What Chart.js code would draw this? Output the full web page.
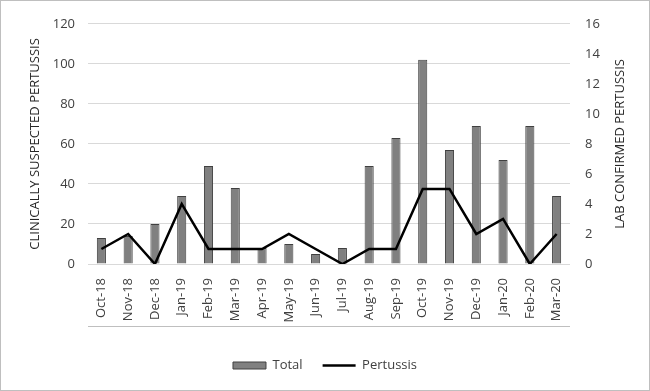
<!DOCTYPE html>
<html>
<head>
<meta charset="utf-8">
<script src="https://cdn.jsdelivr.net/npm/chart.js@4/dist/chart.umd.min.js"></script>
<style>
    html, body { margin: 0; padding: 0; background: #fff; }
    #wrap { width: 648px; height: 389px; border: 1px solid #bfbfbf; position: relative; }
</style>
</head>
<body>
<div id="wrap"><canvas id="chart"></canvas></div>
<script>
// ---------- DATA ----------
const months = ["Oct-18", "Nov-18", "Dec-18", "Jan-19", "Feb-19", "Mar-19", "Apr-19", "May-19", "Jun-19",
    "Jul-19", "Aug-19", "Sep-19", "Oct-19", "Nov-19", "Dec-19", "Jan-20", "Feb-20", "Mar-20"];
const totalCases = [13, 14, 20, 34, 49, 38, 8, 10, 5, 8, 49, 63, 102, 57, 69, 52, 69, 34];
const pertussisCases = [1, 2, 0, 4, 1, 1, 1, 2, 1, 0, 1, 1, 5, 5, 2, 3, 0, 2];
const leftTicks = [0, 20, 40, 60, 80, 100, 120];
const rightTicks = [0, 2, 4, 6, 8, 10, 12, 14, 16];
const leftTitle = "CLINICALLY SUSPECTED PERTUSSIS";
const rightTitle = "LAB CONFIRMED PERTUSSIS";

const font = "'Open Sans', sans-serif";
const tickColor = "#404040";

// axis titles (both read bottom-to-top) and the line under the category labels
const extras = {
    id: "extras",
    afterDraw(chart) {
        const ctx = chart.ctx;
        const area = chart.chartArea;
        const midY = (area.top + area.bottom) / 2;
        ctx.save();
        ctx.fillStyle = "#bfbfbf";
        ctx.fillRect(area.left, Math.round(area.bottom + 62), area.right - area.left, 1);

        ctx.fillStyle = "#262626";
        ctx.font = "13px " + font;
        ctx.textAlign = "center";
        ctx.textBaseline = "middle";
        [[34, leftTitle], [619, rightTitle]].forEach(([tx, text]) => {
            ctx.save();
            ctx.translate(tx, midY);
            ctx.rotate(-Math.PI / 2);
            ctx.fillText(text, 0, 0);
            ctx.restore();
        });
        ctx.restore();
    }
};

new Chart(document.getElementById("chart"), {
    data: {
        labels: months,
        datasets: [
            {
                type: "line",
                label: "Pertussis",
                data: pertussisCases,
                yAxisID: "y1",
                borderColor: "#000",
                backgroundColor: "#000",
                borderWidth: 2.5,
                pointRadius: 0,
                tension: 0,
                pointStyle: "line",
                order: 0
            },
            {
                type: "bar",
                label: "Total",
                data: totalCases,
                yAxisID: "y",
                backgroundColor: "#808080",
                borderColor: "#404040",
                borderWidth: 1,
                categoryPercentage: 1,
                barPercentage: 0.34,
                pointStyle: "rect",
                order: 1
            }
        ]
    },
    options: {
        responsive: true,
        maintainAspectRatio: false,
        animation: false,
        layout: { padding: { left: 0, right: 0, top: 10, bottom: 8 } },
        plugins: {
            tooltip: { enabled: false },
            legend: {
                position: "bottom",
                reverse: true,
                labels: {
                    usePointStyle: true,
                    pointStyleWidth: 33,
                    boxHeight: 7,
                    padding: 20,
                    color: tickColor,
                    font: { family: font, size: 13 }
                }
            }
        },
        scales: {
            x: {
                grid: { display: false },
                border: { display: false },
                afterFit: (axis) => { axis.height = 75; },
                ticks: {
                    color: tickColor,
                    font: { family: font, size: 13 },
                    maxRotation: 90,
                    minRotation: 90,
                    autoSkip: false,
                    padding: 6
                }
            },
            y: {
                position: "left",
                min: 0,
                max: 120,
                afterBuildTicks: (axis) => { axis.ticks = leftTicks.map(v => ({ value: v })); },
                afterFit: (axis) => { axis.width = 87; },
                grid: { color: "#d9d9d9", drawTicks: false },
                border: { display: false },
                ticks: { color: tickColor, font: { family: font, size: 13 }, padding: 13 }
            },
            y1: {
                position: "right",
                min: 0,
                max: 16,
                afterBuildTicks: (axis) => { axis.ticks = rightTicks.map(v => ({ value: v })); },
                afterFit: (axis) => { axis.width = 79; },
                grid: { display: false, drawTicks: false },
                border: { display: false },
                ticks: { color: tickColor, font: { family: font, size: 13 }, padding: 15 }
            }
        }
    },
    plugins: [extras]
});
</script>
</body>
</html>
